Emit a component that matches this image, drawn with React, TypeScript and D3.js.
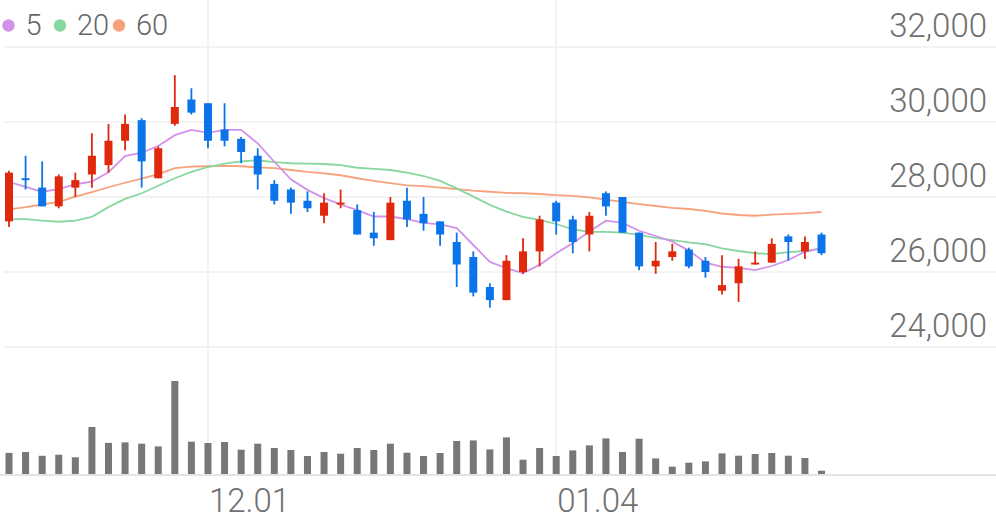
import React from 'react';
import * as d3 from 'd3';

// daily candles (price in KRW)
const opens = [27350, 28500, 28250, 27750, 28250, 28600, 28850, 29500, 30050, 28500, 29950, 30600, 30500, 29800, 29550, 29100, 28350, 28200, 27900, 27500, 27800, 27650, 27050, 26850, 27900, 27550, 27350, 26800, 26400, 25600, 25250, 26000, 26550, 27850, 27400, 27000, 28100, 28000, 27050, 26150, 26400, 26600, 26300, 25500, 25700, 26200, 26250, 26950, 26550, 27000];
const closes = [28650, 28450, 27750, 28550, 28450, 29100, 29500, 29950, 28950, 29300, 30400, 30250, 29500, 29500, 29200, 28600, 27900, 27850, 27700, 27850, 27850, 27000, 26900, 27850, 27400, 27300, 27000, 26200, 25450, 25250, 26300, 26550, 27400, 27350, 26800, 27500, 27750, 27050, 26150, 26300, 26550, 26150, 26000, 25650, 26150, 26250, 26750, 26800, 26800, 26500];
const highs = [28700, 29100, 28950, 28600, 28650, 29700, 29950, 30200, 30100, 29350, 31250, 30900, 30500, 30500, 29600, 29300, 28450, 28250, 28150, 28100, 28200, 27800, 27600, 28000, 28250, 28000, 27350, 27050, 26550, 25700, 26450, 26900, 27500, 27900, 27500, 27600, 28150, 28000, 27050, 26800, 26750, 26650, 26400, 26450, 26350, 26550, 26900, 27000, 26950, 27050];
const lows = [27200, 28200, 27750, 27700, 28000, 28250, 28650, 29250, 28250, 28500, 29900, 30200, 29300, 29350, 28900, 28200, 27800, 27550, 27600, 27300, 27700, 27000, 26700, 26850, 27200, 27100, 26700, 25600, 25350, 25050, 25250, 25950, 26150, 27000, 26500, 26550, 27500, 27050, 26050, 25950, 26300, 26100, 25850, 25400, 25200, 26200, 26250, 26300, 26350, 26450];
// volume, thousands of shares
const volumes = [211, 220, 182, 193, 167, 470, 311, 316, 303, 276, 930, 323, 310, 320, 243, 303, 260, 240, 180, 220, 203, 260, 240, 303, 213, 180, 210, 330, 336, 246, 366, 143, 260, 180, 236, 286, 356, 220, 353, 156, 73, 113, 126, 206, 183, 200, 210, 183, 160, 33];

// moving averages as shown by the chart
const ma5 = [28400, 28270, 28140, 28210, 28340, 28410, 28660, 29090, 29180, 29360, 29650, 29790, 29710, 29790, 29790, 29430, 28940, 28470, 28190, 27970, 27800, 27650, 27480, 27480, 27410, 27310, 27270, 27170, 26720, 26270, 26100, 25970, 26190, 26500, 26770, 27080, 27370, 27310, 27100, 26960, 26810, 26570, 26250, 26140, 26110, 26050, 26160, 26320, 26540, 26630];
const ma20 = [27410, 27410, 27370, 27340, 27370, 27470, 27730, 27950, 28100, 28300, 28500, 28670, 28800, 28890, 28950, 28980, 28930, 28900, 28890, 28880, 28850, 28780, 28750, 28720, 28650, 28560, 28430, 28230, 28010, 27790, 27610, 27470, 27390, 27280, 27140, 27070, 27070, 27050, 26990, 26910, 26850, 26790, 26740, 26630, 26560, 26500, 26480, 26530, 26560, 26630];
const ma60 = [27670, 27730, 27800, 27870, 28010, 28130, 28260, 28380, 28490, 28610, 28770, 28810, 28820, 28830, 28820, 28790, 28770, 28720, 28670, 28630, 28580, 28500, 28430, 28370, 28310, 28290, 28250, 28210, 28170, 28140, 28110, 28100, 28080, 28050, 28030, 27990, 27930, 27870, 27810, 27760, 27710, 27680, 27630, 27560, 27520, 27500, 27530, 27550, 27570, 27600];

const priceTicks = [24000, 26000, 28000, 30000, 32000];
const dateTickIdx = [12, 33];
const dateTickLabels = ['12.01', '01.04'];

const maNames = ['5', '20', '60'];
const maColors = ['#d392ea', '#88d7a0', '#f6a27c'];

const W = 996;
const H = 519;
const UP = '#e0280c';
const DOWN = '#0a74e8';
const FONT = 'Roboto, sans-serif';

const App: React.FC = () => {
  const x = d3.scaleLinear().domain([0, opens.length - 1]).range([9, 821.5]);
  const y = d3.scaleLinear().domain([24000, 32000]).range([347, 47]);
  const yVol = d3.scaleLinear().domain([0, d3.max(volumes) || 1]).range([474, 381]);
  const fmt = d3.format(',');

  const maLine = d3
    .line<number>()
    .x((_, i) => x(i))
    .y((d) => y(d));

  const bodyW = 8;
  const volW = 7;
  const idx = d3.range(opens.length);

  return (
    <svg width={W} height={H} style={{ position: 'absolute', left: 0, top: 0, background: '#fff' }}>
      {/* horizontal grid */}
      {priceTicks.map((t) => (
        <line key={'g' + t} x1={4} x2={W} y1={y(t)} y2={y(t)} stroke="#efefef" strokeWidth={1.5} />
      ))}
      {/* vertical grid */}
      {dateTickIdx.map((d) => (
        <line key={'v' + d} x1={x(d)} x2={x(d)} y1={0} y2={474} stroke="#efefef" strokeWidth={1.5} />
      ))}
      {/* price labels */}
      {priceTicks.map((t) => (
        <text key={'t' + t} x={987} y={y(t) - 10.5} textAnchor="end" fontFamily={FONT} fontWeight={300}
          fontSize={33} fill="#707070">
          {fmt(t)}
        </text>
      ))}

      {/* volume */}
      {idx.map((i) => (
        <rect key={'vol' + i} x={x(i) - volW / 2} y={yVol(volumes[i])} width={volW}
          height={474 - yVol(volumes[i])} fill="#777777" />
      ))}
      <line x1={0} x2={W} y1={475} y2={475} stroke="#e4e4e4" strokeWidth={2} />

      {/* moving averages */}
      <path d={maLine(ma60) || ''} fill="none" stroke={maColors[2]} strokeWidth={1.8} />
      <path d={maLine(ma20) || ''} fill="none" stroke={maColors[1]} strokeWidth={1.8} />
      <path d={maLine(ma5) || ''} fill="none" stroke={maColors[0]} strokeWidth={1.8} />

      {/* candles */}
      {idx.map((i) => {
        const up = closes[i] >= opens[i];
        const c = up ? UP : DOWN;
        const top = y(Math.max(opens[i], closes[i]));
        const bot = y(Math.min(opens[i], closes[i]));
        return (
          <g key={'c' + i}>
            <line x1={x(i)} x2={x(i)} y1={y(highs[i])} y2={y(lows[i])} stroke={c} strokeWidth={1.8} />
            <rect x={x(i) - bodyW / 2} y={top} width={bodyW} height={Math.max(bot - top, 1.5)} fill={c} />
          </g>
        );
      })}

      {/* date labels */}
      {dateTickIdx.map((d, k) => (
        <text key={'d' + d} x={x(d) + 1} y={512} fontFamily={FONT} fontWeight={300} fontSize={33} fill="#707070">
          {dateTickLabels[k]}
        </text>
      ))}

      {/* legend */}
      {maNames.map((n, k) => {
        const lx = [8.5, 60, 119][k];
        return (
          <g key={'l' + n}>
            <circle cx={lx} cy={25.5} r={6.2} fill={maColors[k]} />
            <text x={lx + 17} y={34.5} fontFamily={FONT} fontWeight={300} fontSize={29} fill="#666">
              {n}
            </text>
          </g>
        );
      })}
    </svg>
  );
};

export default App;
